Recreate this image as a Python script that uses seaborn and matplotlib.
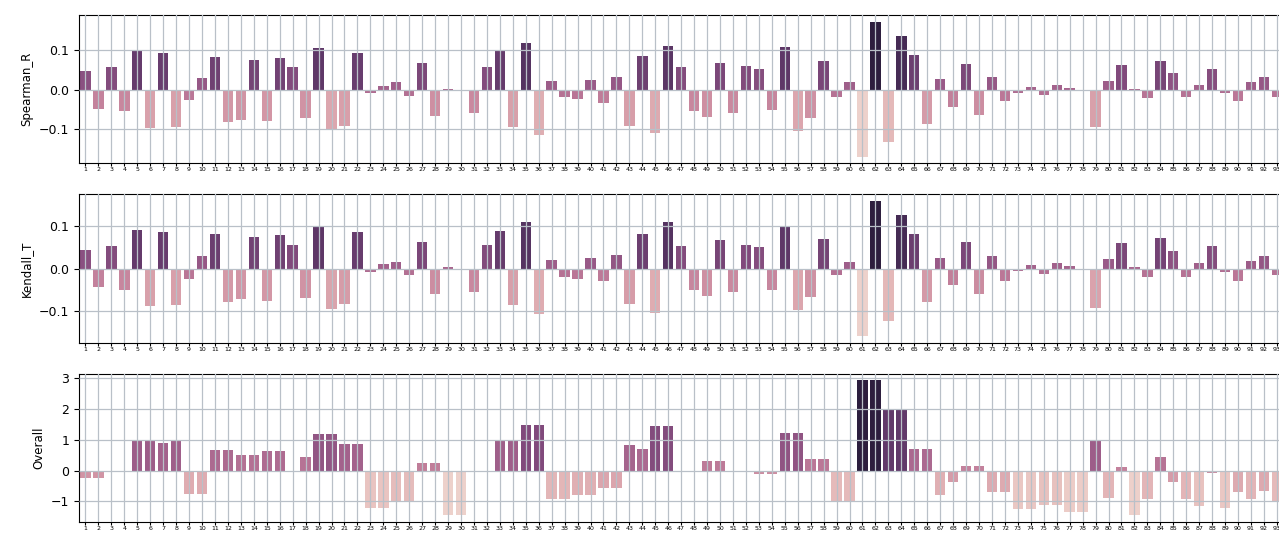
import pandas as pd
import numpy as np
import matplotlib
matplotlib.use("Agg")
import matplotlib.pyplot as plt
import seaborn as sns

# categories 1..93 (the figure is cropped on the right)
categories = list(range(1, 94))

spearman_r = [
    0.047, -0.048, 0.056, -0.055, 0.097, -0.097, 0.092, -0.095, -0.027, 0.029,
    0.083, -0.082, -0.076, 0.075, -0.080, 0.080, 0.057, -0.073, 0.104, -0.103,
    -0.092, 0.092, -0.008, 0.009, 0.018, -0.016, 0.066, -0.067, 0.001, 0.0,
    -0.058, 0.056, 0.097, -0.095, 0.117, -0.115, 0.022, -0.019, -0.025, 0.025,
    -0.035, 0.032, -0.091, 0.085, -0.110, 0.110, 0.056, -0.054, -0.069, 0.068,
    -0.058, 0.059, 0.053, -0.052, 0.107, -0.105, -0.071, 0.071, -0.018, 0.018,
    -0.169, 0.171, -0.133, 0.136, 0.087, -0.086, 0.026, -0.043, 0.065, -0.064,
    0.031, -0.029, -0.008, 0.007, -0.013, 0.012, 0.005, -0.003, -0.094, 0.021,
    0.062, 0.002, -0.022, 0.073, 0.042, -0.019, 0.012, 0.053, -0.008, -0.029,
    0.019, 0.031, -0.019,
]

kendall_t = [
    0.045, -0.043, 0.053, -0.050, 0.092, -0.089, 0.088, -0.087, -0.025, 0.029,
    0.082, -0.079, -0.072, 0.075, -0.076, 0.079, 0.056, -0.070, 0.099, -0.095,
    -0.084, 0.088, -0.008, 0.010, 0.017, -0.015, 0.063, -0.061, 0.004, 0.0,
    -0.054, 0.055, 0.090, -0.087, 0.110, -0.107, 0.020, -0.019, -0.025, 0.026,
    -0.030, 0.033, -0.084, 0.081, -0.106, 0.110, 0.053, -0.050, -0.064, 0.068,
    -0.056, 0.056, 0.051, -0.050, 0.099, -0.098, -0.067, 0.071, -0.015, 0.017,
    -0.159, 0.160, -0.124, 0.128, 0.082, -0.079, 0.026, -0.039, 0.063, -0.059,
    0.031, -0.028, -0.006, 0.009, -0.013, 0.013, 0.006, -0.003, -0.092, 0.024,
    0.062, 0.003, -0.019, 0.072, 0.041, -0.019, 0.013, 0.053, -0.008, -0.028,
    0.019, 0.031, -0.014,
]

overall = [
    -0.24, -0.24, -0.04, -0.04, 0.99, 0.99, 0.88, 0.95, -0.75, -0.75,
    0.68, 0.68, 0.50, 0.50, 0.64, 0.64, 0.0, 0.45, 1.18, 1.18,
    0.86, 0.86, -1.21, -1.21, -1.02, -1.02, 0.25, 0.25, -1.45, -1.45,
    0.0, 0.0, 0.95, 0.95, 1.49, 1.49, -0.93, -0.93, -0.78, -0.78,
    -0.58, -0.58, 0.83, 0.71, 1.44, 1.44, -0.04, -0.04, 0.32, 0.32,
    -0.01, -0.01, -0.11, -0.11, 1.22, 1.22, 0.36, 0.36, -1.0, -1.0,
    2.92, 2.92, 2.0, 2.0, 0.71, 0.71, -0.78, -0.38, 0.15, 0.15,
    -0.69, -0.69, -1.26, -1.26, -1.11, -1.11, -1.34, -1.34, 0.98, -0.89,
    0.13, -1.43, -0.91, 0.45, -0.38, -0.91, -1.15, -0.08, -1.23, -0.69,
    -0.92, -0.67, -1.0,
]

df = pd.DataFrame({"cat": categories, "Spearman_R": spearman_r,
                   "Kendall_T": kendall_t, "Overall": overall})

W, H = 1279, 538
fig, axes = plt.subplots(3, 1, figsize=(W / 100, H / 100), dpi=100)
fig.subplots_adjust(left=79 / W, right=(79 + 93 * 12.95) / W,
                    top=1 - 15 / H, bottom=1 - 522 / H, hspace=0.21)

cmap = sns.cubehelix_palette(as_cmap=True)
for ax, col in zip(axes, ["Spearman_R", "Kendall_T", "Overall"]):
    sns.barplot(data=df, x="cat", y=col, hue=col, palette=cmap,
                legend=False, ax=ax, saturation=1)
    ax.set_axisbelow(False)
    ax.grid(True, color="#b9c0c8", linewidth=0.9)
    ax.set_xlabel("")
    ax.set_ylabel(col, fontsize=8.5)
    ax.tick_params(axis="x", labelsize=4.5, length=2, pad=1)
    ax.tick_params(axis="y", labelsize=9)
    ax.set_xlim(-0.5, len(categories) - 0.5)

axes[0].set_yticks([-0.1, 0.0, 0.1])
axes[1].set_yticks([-0.1, 0.0, 0.1])
axes[2].set_yticks([-1, 0, 1, 2, 3])

fig.savefig("out.png", dpi=100)
